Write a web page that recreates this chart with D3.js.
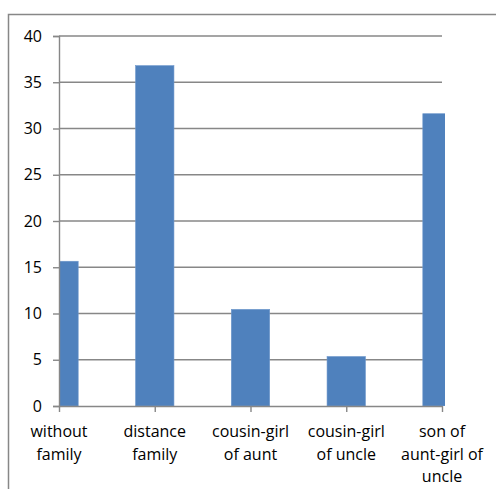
<!DOCTYPE html>
<html>
<head>
<meta charset="utf-8">
<script src="https://cdn.jsdelivr.net/npm/d3@7"></script>
<style>
  body { margin: 0; background: #fff; }
  svg { display: block; }
  text { font-family: "Open Sans", sans-serif; fill: #000; }
</style>
</head>
<body>
<div id="chart"></div>
<script>
// chart data
const categories = ["without family", "distance family", "cousin-girl of aunt", "cousin-girl of uncle", "son of aunt-girl of uncle"];
const values = [15.65, 36.8, 10.45, 5.35, 31.6];
const xTickLines = [["without", "family"], ["distance", "family"], ["cousin-girl", "of aunt"], ["cousin-girl", "of uncle"], ["son of", "aunt-girl of", "uncle"]];
const yTicks = [0, 5, 10, 15, 20, 25, 30, 35, 40];

document.addEventListener('DOMContentLoaded', function(){

	const w = 496, h = 489;
	const left = 59, right = 442, top = 36, bottom = 406;
	const barW = 38.4;
	const gray = "#878787";
	const blue = "#4F81BD";

	const svg = d3.select("#chart")
				  .append("svg")
				  .attr("width", w)
				  .attr("height", h);

	// outer frame (cropped at right/bottom like the source)
	svg.append("rect")
	   .attr("x", 8.5).attr("y", 14.5)
	   .attr("width", 600).attr("height", 600)
	   .attr("fill", "none")
	   .attr("stroke", gray)
	   .attr("stroke-width", 1.5);

	const xScale = d3.scalePoint()
					 .domain(categories)
					 .range([left, right]);

	const yScale = d3.scaleLinear()
					 .domain([0, 40])
					 .range([bottom, top]);

	// gridlines
	svg.append("g")
	   .selectAll("line")
	   .data(yTicks.filter(t => t > 0))
	   .enter()
	   .append("line")
	   .attr("x1", left).attr("x2", right)
	   .attr("y1", d => yScale(d)).attr("y2", d => yScale(d))
	   .attr("stroke", gray)
	   .attr("stroke-width", 1.4);

	// clip for the end bars
	svg.append("clipPath")
	   .attr("id", "plotclip")
	   .append("rect")
	   .attr("x", left).attr("y", 0)
	   .attr("width", right + 3 - left).attr("height", bottom);

	svg.append("g")
	   .attr("clip-path", "url(#plotclip)")
	   .selectAll("rect")
	   .data(values)
	   .enter()
	   .append("rect")
	   .attr("x", (d, i) => xScale(categories[i]) - barW / 2)
	   .attr("y", d => yScale(d))
	   .attr("width", barW)
	   .attr("height", d => bottom - yScale(d))
	   .attr("fill", blue)
	   .attr("stroke", "#6f98cc")
	   .attr("stroke-width", 0.6);

	// y axis
	const yAxis = d3.axisLeft(yScale)
					.tickValues(yTicks)
					.tickSize(6)
					.tickPadding(11);

	const gy = svg.append("g")
				  .attr("transform", "translate(" + left + ",0)")
				  .call(yAxis);
	gy.select(".domain").attr("stroke", gray).attr("stroke-width", 1.4);
	gy.selectAll(".tick line").attr("stroke", gray).attr("stroke-width", 1.4);
	gy.selectAll(".tick text")
	  .style("font-family", "'Open Sans', sans-serif")
	  .style("font-size", "16px")
	  .attr("fill", "#000");

	// x axis
	const xAxis = d3.axisBottom(xScale)
					.tickSize(6)
					.tickSizeOuter(0)
					.tickFormat("");

	const gx = svg.append("g")
				  .attr("transform", "translate(0," + bottom + ")")
				  .call(xAxis);
	gx.select(".domain").attr("stroke", gray).attr("stroke-width", 1.4);
	gx.selectAll(".tick line").attr("stroke", gray).attr("stroke-width", 1.4);

	// x labels, wrapped
	const lab = svg.append("g")
				   .selectAll("text")
				   .data(categories)
				   .enter()
				   .append("text")
				   .attr("text-anchor", "middle")
				   .attr("x", d => xScale(d))
				   .attr("y", 437)
				   .style("font-size", "16px");
	lab.each(function(d, i) {
		d3.select(this).selectAll("tspan")
		  .data(xTickLines[i])
		  .enter()
		  .append("tspan")
		  .attr("x", xScale(d))
		  .attr("dy", (t, j) => j === 0 ? 0 : 22.5)
		  .text(t => t);
	});

});
</script>
</body>
</html>
